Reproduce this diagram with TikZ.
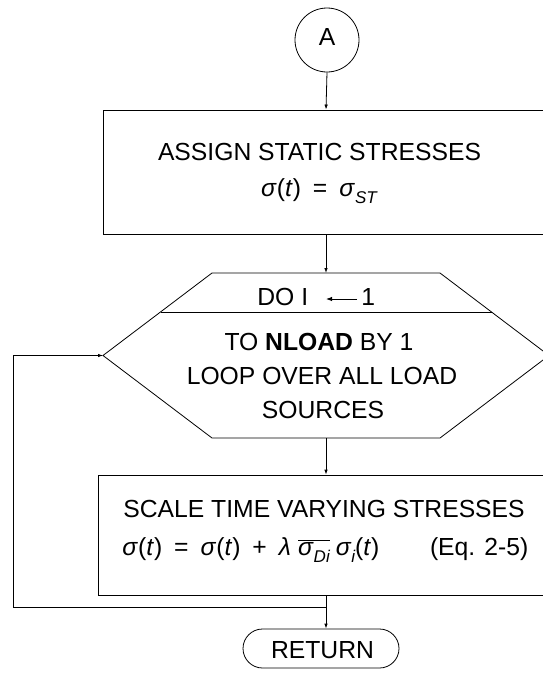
\documentclass[tikz,border=0pt]{standalone}
\usepackage{fontspec}
\setmainfont{Liberation Sans}
\usetikzlibrary{arrows.meta}
\newcommand\gsig{\textit{σ}}
\newcommand\tit[1]{\textit{#1}}
\newcommand\subsc[1]{\raisebox{-0.32em}{\fontsize{17}{18}\selectfont\itshape #1}}
\newcommand\opsp[1]{\hspace{12pt}#1\hspace{12pt}}
\begin{document}
\begin{tikzpicture}[x=1pt,y=-1pt,line width=0.8pt,
  arr/.style={-{Latex[length=5pt,width=3.5pt]}},
  txt/.style={inner sep=0pt,font=\fontsize{24.7}{30}\selectfont},
  blank/.style={draw,inner sep=0pt}]
\fill[white] (0,0) rectangle (543,675);
\clip (0,0) rectangle (543,675);
% shapes
\node[blank,circle,minimum size=64pt] (A) at (327,40) {};
\node[blank,minimum width=446pt,minimum height=124pt] (B1) at (326,172) {};
\coordinate (hexN) at (326,273);
\coordinate (hexS) at (326,438);
\coordinate (hexW) at (103,355.5);
\draw (212,273) -- (440,273) -- (549,355.5) -- (440,438) -- (212,438) -- (hexW) -- cycle;
\draw (160.5,312) -- (491.5,312);
\node[blank,minimum width=456pt,minimum height=120pt] (B2) at (326,535) {};
\node[blank,rounded corners=19.5pt,minimum width=156pt,minimum height=39pt] (R) at (321,648.5) {};
% texts
\node[txt,anchor=base] (tA) at (327,45) {A};
\node[txt,anchor=base] (t1) at (319.5,160) {ASSIGN STATIC STRESSES};
\node[txt,anchor=base] (t2) at (319,196) {\gsig(\tit{t})\opsp{=}\gsig\subsc{ST}};
\node[txt,anchor=base west] (t3) at (257,305) {DO I};
\node[txt,anchor=base west] (t3b) at (361,305) {1};
\coordinate (arrR) at (357,299);
\coordinate (arrL) at (326,299);
\draw[-{Latex[length=6pt,width=4.5pt]},line width=1pt] (arrR) -- (arrL);
\node[txt,anchor=base] (t4) at (319,350) {TO \textbf{NLOAD} BY 1};
\node[txt,anchor=base] (t5) at (322,384) {LOOP OVER ALL LOAD};
\node[txt,anchor=base] (t6) at (323,418) {SOURCES};
\node[txt,anchor=base west] (t7) at (123,517) {SCALE TIME VARYING STRESSES};
\node[txt,anchor=base west] (t8) at (122,555) {\makebox[406pt][l]{\gsig(\tit{t})\opsp{=}\gsig(\tit{t})\opsp{+}\tit{λ}\hspace{7pt}$\overline{\mbox{\gsig\subsc{Di}}}$\hspace{6pt}\gsig\subsc{i}(\tit{t})\hfill(Eq. 2-5)}};
\node[txt,anchor=base] (tR) at (322.5,658) {RETURN};
% connectors
\draw[arr] (A.south) -- (B1.north);
\draw[arr] (B1.south) -- (hexN);
\draw[arr] (hexS) -- (B2.north);
\coordinate (J) at (326,607);
\coordinate (L1) at (13,607);
\coordinate (L2) at (13,355.5);
\draw (B2.south) -- (J);
\draw[arr] (J) -- (J |- R.north);
\draw[arr] (J) -- (L1) -- (L2) -- (hexW);
\end{tikzpicture}
\end{document}
